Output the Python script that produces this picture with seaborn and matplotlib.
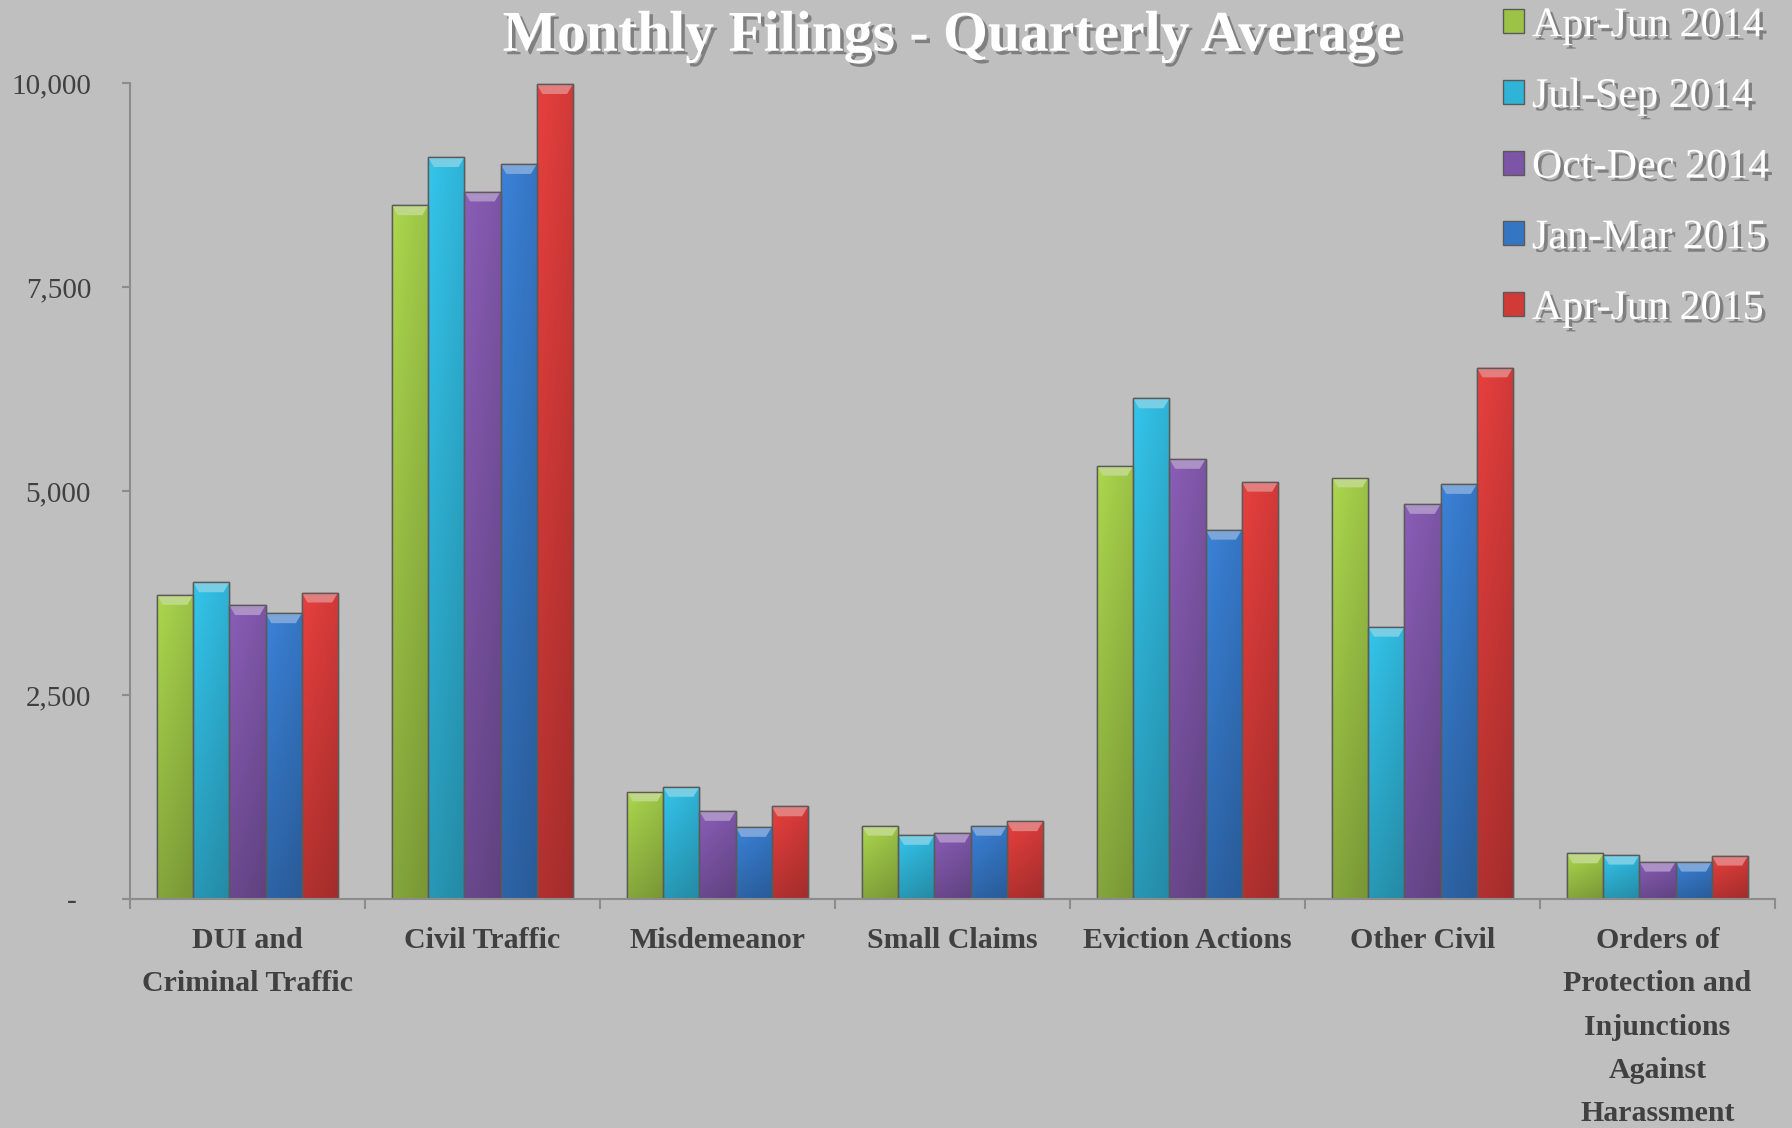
import pandas as pd
import numpy as np
import matplotlib
matplotlib.use('Agg')
import matplotlib.pyplot as plt
import matplotlib.patheffects as pe
from matplotlib.colors import to_rgb
from matplotlib.patches import Polygon
from matplotlib.ticker import FuncFormatter, FixedLocator
import seaborn as sns

# Chart data
categories = ['DUI and\nCriminal Traffic', 'Civil Traffic', 'Misdemeanor', 'Small Claims',
              'Eviction Actions', 'Other Civil',
              'Orders of\nProtection and\nInjunctions\nAgainst\nHarassment']
quarters = ['Apr-Jun 2014', 'Jul-Sep 2014', 'Oct-Dec 2014', 'Jan-Mar 2015', 'Apr-Jun 2015']
apr_jun_2014 = [3725, 8500, 1317, 896, 5308, 5165, 558]
jul_sep_2014 = [3880, 9090, 1373, 784, 6134, 3335, 542]
oct_dec_2014 = [3600, 8669, 1078, 812, 5392, 4840, 456]
jan_mar_2015 = [3501, 9006, 882, 896, 4524, 5085, 456]
apr_jun_2015 = [3754, 9986, 1134, 952, 5112, 6513, 530]
colors = ['#9CC346', '#2FB3D6', '#7D55A6', '#3576C4', '#D23A38']

series = [apr_jun_2014, jul_sep_2014, oct_dec_2014, jan_mar_2015, apr_jun_2015]
rows = []
for q, vals in zip(quarters, series):
    for c, v in zip(categories, vals):
        rows.append({'category': c, 'quarter': q, 'filings': v})
df = pd.DataFrame(rows)

bg = '#BFBFBF'
sns.set_style('white')
plt.rcParams['font.family'] = ['Liberation Serif', 'DejaVu Serif']

fig = plt.figure(figsize=(17.92, 11.28), dpi=100, facecolor=bg)
ax = fig.add_axes([0.0725, 0.203, 0.918, 0.7234])
ax.set_facecolor(bg)

sns.barplot(data=df, x='category', y='filings', hue='quarter', order=categories,
            hue_order=quarters, palette=colors, width=0.77, gap=0, saturation=1,
            edgecolor='#5A5A5A', linewidth=1.0, ax=ax, legend=True)

ax.set_ylim(0, 10000)
ax.set_xlim(-0.5, len(categories) - 0.5)

# glossy look: vertical gradient inside each bar plus a light bevel at the top
bevel_h = 120  # data units, about 10 px
for bar in list(ax.patches):
    h = bar.get_height()
    if h <= 0:
        continue
    x0, w = bar.get_x(), bar.get_width()
    base = np.array(to_rgb(bar.get_facecolor()))
    top_c = np.clip(base * 1.06, 0, 1)
    bot_c = base * 0.82
    t = np.linspace(0, 1, 64)[:, None]
    grad = (top_c * (1 - t) + bot_c * t)[:, None, :]
    lr = np.linspace(1.04, 0.94, 16)[None, :, None]
    img = np.clip(grad * lr, 0, 1)
    im = ax.imshow(img, extent=(x0, x0 + w, 0, h), origin='upper', aspect='auto',
                   zorder=bar.get_zorder() + 0.1, interpolation='bilinear')
    im.set_clip_path(bar)
    bh = min(bevel_h, h * 0.3)
    inset = w * 0.16
    light = np.clip(base + (1 - base) * 0.35, 0, 1)
    ax.add_patch(Polygon([(x0, h), (x0 + w, h), (x0 + w - inset, h - bh), (x0 + inset, h - bh)],
                         closed=True, facecolor=light, edgecolor='none',
                         zorder=bar.get_zorder() + 0.2))
    ax.add_patch(Polygon([(x0, 0), (x0 + w, 0), (x0 + w, h), (x0, h)], closed=True,
                         facecolor='none', edgecolor='#5A5A5A', linewidth=1.0,
                         zorder=bar.get_zorder() + 0.3))
ax.set_ylim(0, 10000)
ax.set_xlim(-0.5, len(categories) - 0.5)
ax.set_xlabel('')
ax.set_ylabel('')

for s in ['top', 'right']:
    ax.spines[s].set_visible(False)
for s in ['left', 'bottom']:
    ax.spines[s].set_color('#8C8C8C')
    ax.spines[s].set_linewidth(1.5)
    ax.spines[s].set_zorder(5)

ax.set_yticks([0, 2500, 5000, 7500, 10000])
ax.yaxis.set_major_formatter(FuncFormatter(lambda v, p: '-  ' if v == 0 else f'{int(v):,}'))
ax.tick_params(axis='y', direction='out', length=6, width=1.5, color='#8C8C8C',
               labelsize=21, labelcolor='#404040', pad=22, left=True)

ax.set_xticks(range(len(categories)))
ax.set_xticklabels(categories, fontweight='bold', fontsize=21.5, color='#404040',
                   linespacing=1.78, va='top')
ax.xaxis.set_minor_locator(FixedLocator(np.arange(-0.5, len(categories), 1.0)))
ax.tick_params(axis='x', which='major', length=0, pad=20)
ax.tick_params(axis='x', which='minor', direction='out', length=7, width=1.5,
               color='#8C8C8C', bottom=True)

shadow = [pe.withSimplePatchShadow(offset=(2.5, -2.5), shadow_rgbFace='#555555', alpha=0.6)]

fig.text(0.531, 0.955, 'Monthly Filings - Quarterly Average', ha='center', va='baseline',
         fontsize=41.5, fontweight='bold', color='white', path_effects=shadow)

handles, labels = ax.get_legend_handles_labels()
ax.get_legend().remove()
leg = fig.legend(handles, labels, loc='upper left', bbox_to_anchor=(0.8295, 1.009),
                 frameon=False, fontsize=30.3, handlelength=0.5, handleheight=0.5,
                 handletextpad=0.18, labelspacing=0.765, borderaxespad=0)
for t in leg.get_texts():
    t.set_color('white')
    t.set_path_effects(shadow)

fig.savefig('out.png', dpi=100, facecolor=bg)
